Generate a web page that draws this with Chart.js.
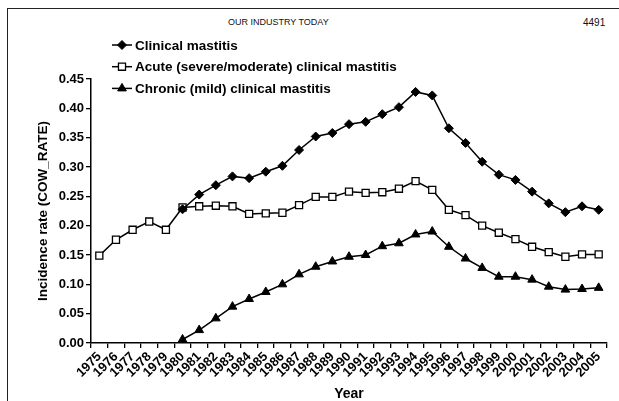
<!DOCTYPE html>
<html>
<head>
<meta charset="utf-8">
<script src="https://cdn.jsdelivr.net/npm/chart.js@4"></script>
<style>
  body { margin: 0; background: #fff; font-family: "Liberation Sans", Arial, sans-serif; }
  #wrap { position: relative; width: 619px; height: 401px; overflow: hidden; }
  #frame { position: absolute; left: 7px; top: 8px; right: -5px; bottom: -5px;
           border-top: 1.5px solid #222; border-left: 1.5px solid #222; }
  .hdr { position: absolute; top: 17px; font-size: 9px; color: #111; }
  canvas { position: absolute; left: 0; top: 0; }
</style>
</head>
<body>
<div id="wrap">
  <div id="frame"></div>
  <div class="hdr" style="left:228px">OUR INDUSTRY TODAY</div>
  <div class="hdr" style="left:583px; font-size:10px">4491</div>
  <canvas id="chart" width="619" height="401"></canvas>
</div>
<script>
// years on the x axis
const years = ['1975','1976','1977','1978','1979','1980','1981','1982','1983','1984',
  '1985','1986','1987','1988','1989','1990','1991','1992','1993','1994',
  '1995','1996','1997','1998','1999','2000','2001','2002','2003','2004','2005'];

// values (null = no data)
const clinical = [null, null, null, null, null, 0.228, 0.253, 0.269, 0.284, 0.281,
  0.292, 0.302, 0.329, 0.352, 0.358, 0.373, 0.377, 0.390, 0.402, 0.428,
  0.422, 0.366, 0.341, 0.309, 0.287, 0.278, 0.258, 0.238, 0.223, 0.233, 0.227];
const acute = [0.149, 0.176, 0.193, 0.207, 0.193, 0.231, 0.233, 0.234, 0.233, 0.220,
  0.221, 0.222, 0.235, 0.249, 0.249, 0.258, 0.256, 0.257, 0.263, 0.276,
  0.261, 0.227, 0.218, 0.200, 0.188, 0.177, 0.164, 0.155, 0.147, 0.151, 0.151];
const chronic = [null, null, null, null, null, 0.006, 0.022, 0.042, 0.062, 0.075,
  0.087, 0.100, 0.117, 0.130, 0.139, 0.147, 0.150, 0.165, 0.170, 0.185,
  0.190, 0.164, 0.144, 0.128, 0.113, 0.113, 0.108, 0.096, 0.091, 0.092, 0.094];

const yTicks = [0, 0.05, 0.10, 0.15, 0.20, 0.25, 0.30, 0.35, 0.40, 0.45];

const fontFam = '"Liberation Sans", Arial, sans-serif';

// legend drawn by hand: line + marker + label, like the print figure
const legendPlugin = {
  id: 'printLegend',
  afterDraw(chart) {
    const ctx = chart.ctx;
    ctx.save();
    chart.data.datasets.forEach((ds, i) => {
      const y = 45 + i * 21.7;
      ctx.strokeStyle = '#000';
      ctx.lineWidth = 1.5;
      ctx.beginPath();
      ctx.moveTo(112, y);
      ctx.lineTo(132, y);
      ctx.stroke();
      ctx.fillStyle = ds.pointBackgroundColor;
      ctx.lineWidth = ds.pointBorderWidth || 1;
      Chart.helpers.drawPoint(ctx, {
        pointStyle: ds.pointStyle,
        radius: ds.pointRadius,
        borderWidth: ds.pointBorderWidth || 1
      }, 122, y);
      ctx.fillStyle = '#000';
      ctx.font = 'bold 13.5px ' + fontFam;
      ctx.textBaseline = 'middle';
      ctx.fillText(ds.label, 135, y + 1);
    });
    ctx.restore();
  }
};

new Chart(document.getElementById('chart'), {
  type: 'line',
  data: {
    labels: years,
    datasets: [
      {
        label: 'Clinical mastitis',
        data: clinical,
        borderColor: '#000', borderWidth: 1.5,
        pointStyle: 'rectRot', pointRadius: 4.5,
        pointBackgroundColor: '#000', pointBorderColor: '#000', pointBorderWidth: 1
      },
      {
        label: 'Acute (severe/moderate) clinical mastitis',
        data: acute,
        borderColor: '#000', borderWidth: 1.5,
        pointStyle: 'rect', pointRadius: 5,
        pointBackgroundColor: '#fff', pointBorderColor: '#000', pointBorderWidth: 1.3
      },
      {
        label: 'Chronic (mild) clinical mastitis',
        data: chronic,
        borderColor: '#000', borderWidth: 1.5,
        pointStyle: 'triangle', pointRadius: 5,
        pointBackgroundColor: '#000', pointBorderColor: '#000', pointBorderWidth: 1
      }
    ]
  },
  options: {
    responsive: false,
    animation: false,
    layout: { padding: { top: 79, right: 12, bottom: 0, left: 0 } },
    plugins: { legend: { display: false }, tooltip: { enabled: false } },
    elements: { line: { tension: 0 } },
    scales: {
      x: {
        offset: true,
        afterFit: s => { s.height = 58; },
        grid: { drawOnChartArea: false, offset: true, color: '#000', lineWidth: 1.3, tickLength: 5 },
        border: { color: '#000', width: 1.5 },
        ticks: {
          autoSkip: false, minRotation: 45, maxRotation: 45, padding: 1,
          color: '#000', font: { family: fontFam, size: 13, weight: 'bold' }
        },
        title: {
          display: true, text: 'Year', color: '#000',
          font: { family: fontFam, size: 14, weight: 'bold', lineHeight: 1 },
          padding: { top: 0, bottom: 0 }
        }
      },
      y: {
        min: 0, max: 0.45,
        afterFit: s => { s.width = 91; },
        afterBuildTicks: s => { s.ticks = yTicks.map(v => ({ value: v })); },
        grid: { drawOnChartArea: false, color: '#000', lineWidth: 1.3, tickLength: 5 },
        border: { color: '#000', width: 1.5 },
        ticks: {
          padding: 2, color: '#000',
          font: { family: fontFam, size: 13, weight: 'bold' },
          callback: v => v.toFixed(2)
        },
        title: {
          display: true, text: 'Incidence rate (COW_RATE)', color: '#000',
          font: { family: fontFam, size: 13.5, weight: 'bold', lineHeight: 1.2 },
          padding: { top: 35, bottom: 0 }
        }
      }
    }
  },
  plugins: [legendPlugin]
});
</script>
</body>
</html>
